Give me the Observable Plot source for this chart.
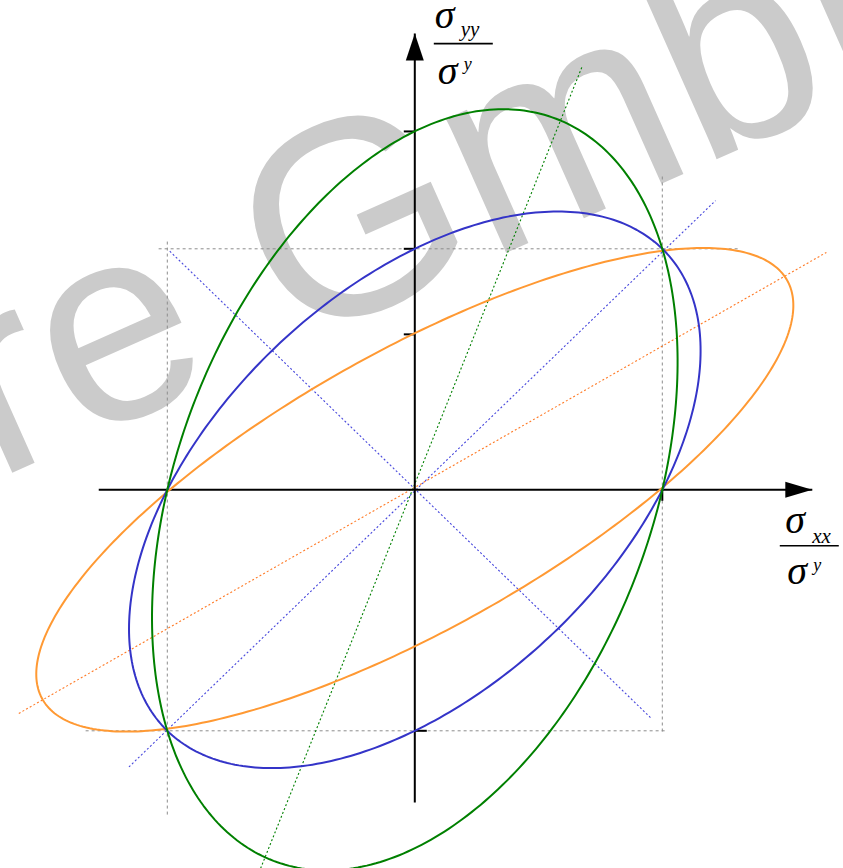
<!DOCTYPE html>
<html>
<head>
<meta charset="utf-8">
<script src="https://cdn.jsdelivr.net/npm/d3@7"></script>
<script src="https://cdn.jsdelivr.net/npm/@observablehq/plot@0.6"></script>
<style>
  body { margin: 0; background: #fff; }
  #chart { width: 843px; height: 868px; overflow: hidden; }
</style>
</head>
<body>
<div id="chart"></div>
<script>
// Plane-stress yield loci  a·sxx² − c·sxx·syy + b·syy² = 1  (stresses normalised by the yield stress)
const curveNames  = ["orange", "blue", "green"];
const coefA       = [1.02, 1.0, 1.0];
const coefB       = [2.37, 1.0, 0.452];
const coefC       = [2.37, 1.0, 0.452];
const curveColors = ["#ff9933", "#3434c8", "#008000"];

// dotted principal-direction guides (start / end in normalised stress)
const guideX1 = [-1.60, -1.155, -0.99, -0.623];
const guideY1 = [-0.928, -1.15, 0.99, -1.571];
const guideX2 = [1.663, 1.215, 0.952, 0.678];
const guideY2 = [0.985, 1.20, -0.945, 1.761];
const guideColors = ["#ff7a26", "#4646dc", "#4646dc", "#008000"];

// grey dashed reference lines at ±1
const refX1 = [-1.035, -1.33, 1, -1];
const refY1 = [1, -1, 1.30, 1.03];
const refX2 = [1.31, 1.02, 1, -1];
const refY2 = [1, -1, -1.01, -1.36];

// coordinate axes (tail, tip)
const axisXRange = [-1.277, 1.606];
const axisYRange = [-1.297, 1.893];

// tick positions: on the vertical axis (left / right side) and on the horizontal axis
const yTicksLeft  = [1.487, 1, 0.645];
const yTicksRight = [-1];
const xTicksDown  = [1];

// watermark text and its baseline start
const watermark = ["re GmbH"];
const watermarkAt = {x: -1.6974, y: 0.038};

// sample an ellipse from its quadratic-form coefficients
function ellipse(name, a, b, c, color) {
  const p = a, q = -c / 2, r = b;
  const th = 0.5 * Math.atan2(2 * q, p - r);
  const m = (p + r) / 2, d = Math.sqrt(((p - r) / 2) ** 2 + q * q);
  const l1 = m + d, l2 = m - d;
  const pts = [];
  for (let i = 0; i <= 360; i++) {
    const t = (i / 360) * 2 * Math.PI;
    const u = Math.cos(t) / Math.sqrt(l1), v = Math.sin(t) / Math.sqrt(l2);
    pts.push({name, color,
      x: Math.cos(th) * u - Math.sin(th) * v,
      y: Math.sin(th) * u + Math.cos(th) * v});
  }
  return pts;
}
const curves = curveNames.flatMap((n, i) => ellipse(n, coefA[i], coefB[i], coefC[i], curveColors[i]));
const guides = guideX1.map((x1, i) => ({x1, y1: guideY1[i], x2: guideX2[i], y2: guideY2[i], color: guideColors[i]}));
const refs = refX1.map((x1, i) => ({x1, y1: refY1[i], x2: refX2[i], y2: refY2[i]}));
const axes = [
  {x1: axisXRange[0], y1: 0, x2: axisXRange[1], y2: 0},
  {x1: 0, y1: axisYRange[0], x2: 0, y2: axisYRange[1]}
];

// custom path symbols (pixel units around the anchor point)
const sym = (f) => ({draw(ctx) { f(ctx); }});
const arrowRight = sym(c => { c.moveTo(0, 0); c.lineTo(-27, -8); c.lineTo(-27, 8); c.closePath(); });
const arrowUp    = sym(c => { c.moveTo(0, 0); c.lineTo(-9, 27); c.lineTo(9, 27); c.closePath(); });
const tickLeft   = sym(c => { c.moveTo(-11, 0); c.lineTo(0, 0); });
const tickRight  = sym(c => { c.moveTo(0, 0); c.lineTo(12, 0); });
const tickDown   = sym(c => { c.moveTo(0, 0); c.lineTo(0, 11); });
const fracBar    = sym(c => { c.moveTo(-29.5, 0); c.lineTo(29.5, 0); });

const serif = "'Liberation Serif', 'Times New Roman', serif";
const yTip = [{x: 0, y: axisYRange[1]}];
const xTip = [{x: axisXRange[1], y: 0}];
const lbl = (data, text, size, dx, dy) => Plot.text(data, {
  x: "x", y: "y", text: () => text, fontSize: size, fontStyle: "italic",
  fontFamily: serif, textAnchor: "start", lineAnchor: "bottom", dx, dy, fill: "#000"
});

const ox = 414.3, oy = 489.3, sx = 247.5, sy = 241;
const chart = Plot.plot({
  width: 843, height: 868,
  margin: 0,
  x: {domain: [-ox / sx, (843 - ox) / sx], range: [0, 843], axis: null},
  y: {domain: [-(868 - oy) / sy, oy / sy], range: [868, 0], axis: null},
  color: {type: "identity"},
  style: {background: "#fff"},
  marks: [
    Plot.text(watermark, {x: () => watermarkAt.x, y: () => watermarkAt.y, text: d => d, rotate: -24,
      fontSize: 278, fontFamily: "'Liberation Sans', Arial, sans-serif",
      fill: "#cbcbcb", textAnchor: "start", lineAnchor: "bottom"}),
    Plot.link(refs, {x1: "x1", y1: "y1", x2: "x2", y2: "y2", stroke: "#8c8c8c", strokeWidth: 1, strokeDasharray: "3,3"}),
    Plot.link(guides, {x1: "x1", y1: "y1", x2: "x2", y2: "y2", stroke: "color", strokeWidth: 1.1, strokeDasharray: "2,2.2"}),
    Plot.link(axes, {x1: "x1", y1: "y1", x2: "x2", y2: "y2", stroke: "#000", strokeWidth: 2}),
    Plot.dot(xTip, {x: "x", y: "y", symbol: arrowRight, fill: "#000", stroke: "none"}),
    Plot.dot(yTip, {x: "x", y: "y", symbol: arrowUp, fill: "#000", stroke: "none"}),
    Plot.dot(yTicksLeft, {x: () => 0, y: d => d, symbol: tickLeft, fill: "none", stroke: "#000", strokeWidth: 2}),
    Plot.dot(yTicksRight, {x: () => 0, y: d => d, symbol: tickRight, fill: "none", stroke: "#000", strokeWidth: 2}),
    Plot.dot(xTicksDown, {x: d => d, y: () => 0, symbol: tickDown, fill: "none", stroke: "#000", strokeWidth: 2}),
    Plot.line(curves, {x: "x", y: "y", z: "name", stroke: "color", strokeWidth: 2, curve: "linear"}),
    // vertical axis label  σyy / σʸ
    lbl(yTip, "σ", 40, 20, -6),
    lbl(yTip, "yy", 21, 46, 2),
    Plot.dot(yTip, {x: "x", y: "y", symbol: fracBar, dx: 48.5, dy: 10, fill: "none", stroke: "#000", strokeWidth: 1.6}),
    lbl(yTip, "σ", 40, 23, 50),
    lbl(yTip, "y", 18, 49, 36),
    // horizontal axis label  σxx / σʸ
    lbl(xTip, "σ", 40, -27, 43),
    lbl(xTip, "xx", 21, 0, 53),
    Plot.dot(xTip, {x: "x", y: "y", symbol: fracBar, dx: -3, dy: 56, fill: "none", stroke: "#000", strokeWidth: 1.6}),
    lbl(xTip, "σ", 40, -25, 94),
    lbl(xTip, "y", 18, 1, 81)
  ]
});
document.getElementById("chart").append(chart);
</script>
</body>
</html>
